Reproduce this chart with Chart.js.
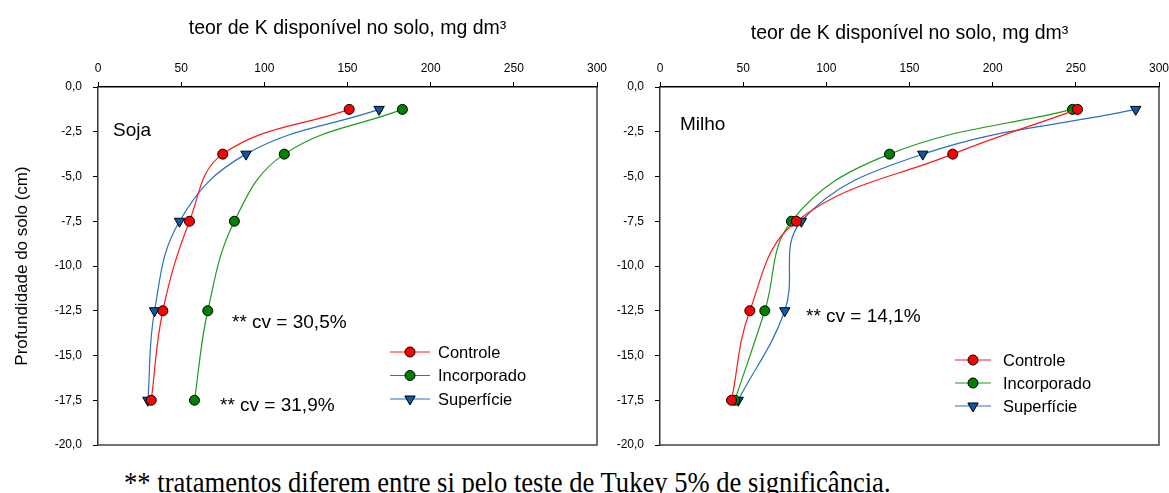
<!DOCTYPE html>
<html><head><meta charset="utf-8">
<script src="https://cdn.jsdelivr.net/npm/chart.js@4.4.1/dist/chart.umd.min.js"></script>
<style>
body{margin:0;width:1169px;height:493px;background:#fff;position:relative;overflow:hidden;font-family:"Liberation Sans",Arial,sans-serif;}
.c{position:absolute;top:0;}
.t{position:absolute;white-space:nowrap;color:#000;line-height:1;}
</style></head><body>
<div class="c" style="left:600px;width:569px;height:460px"><canvas id="milho"></canvas></div>
<div class="c" style="left:0;width:620px;height:460px"><canvas id="soja"></canvas></div>
<div class="t" style="left:113px;top:120px;font-size:19px">Soja</div>
<div class="t" style="left:680px;top:114px;font-size:19px">Milho</div>
<div class="t" style="left:232px;top:312px;font-size:19px">** cv = 30,5%</div>
<div class="t" style="left:220px;top:395px;font-size:19px">** cv = 31,9%</div>
<div class="t" style="left:806px;top:306px;font-size:19px">** cv = 14,1%</div>
<div class="t" style="left:124px;top:470px;font-size:26.6px;font-family:'Liberation Serif','Times New Roman',serif;transform:scaleY(1.08);transform-origin:0 100%">** tratamentos diferem entre si pelo teste de Tukey 5% de significância.</div>
<script>
// ---- data ----
const depths = [-1.25, -3.75, -7.5, -12.5, -17.5];
const seriesNames = ['Controle', 'Incorporado', 'Superfície'];
const sojaControle    = [151, 75, 55, 39, 32];
const sojaIncorporado = [183, 112, 82, 66, 58];
const sojaSuperficie  = [169, 89, 49, 34, 30];
const milhoControle    = [251, 176, 82, 54, 43];
const milhoIncorporado = [248, 138, 79, 63, 45];
const milhoSuperficie  = [286, 158, 85, 75, 47];
const xTicks = [0, 50, 100, 150, 200, 250, 300];
const yTicks = [0, -2.5, -5, -7.5, -10, -12.5, -15, -17.5, -20];
const xTitle = 'teor de K disponível no solo, mg dm³';
const yTitle = 'Profundidade do solo (cm)';

const styles = [
  {line:'#ff1a1a', fill:'#ff0000', pointStyle:'circle', rot:0, r:5},
  {line:'#1f9a1f', fill:'#008000', pointStyle:'circle', rot:0, r:5},
  {line:'#2a6fc0', fill:'#0b5aa8', pointStyle:'triangle', rot:180, r:6}
];

function mkDatasets(arrs){
  return arrs.map((vals,i)=>({
    label: seriesNames[i],
    data: vals.map((v,j)=>({x:v, y:depths[j]})),
    showLine:true,
    borderColor: styles[i].line,
    borderWidth: 1.2,
    tension: 0.4,
    pointStyle: styles[i].pointStyle,
    pointRotation: styles[i].rot,
    pointRadius: styles[i].r,
    pointBackgroundColor: styles[i].fill,
    pointBorderColor: '#000',
    pointBorderWidth: 1
  }));
}

const frame = {
  id:'frame',
  beforeDatasetsDraw(chart){
    const {ctx, chartArea:a} = chart;
    ctx.save();
    ctx.lineWidth = 1.5;
    ctx.strokeStyle = '#444';
    ctx.beginPath();
    ctx.moveTo(a.right, a.top); ctx.lineTo(a.right, a.bottom); ctx.lineTo(a.left, a.bottom);
    ctx.stroke();
    ctx.restore();
  }
};

const ptLegend = {
  id:'ptLegend',
  afterDraw(chart, args, o){
    if(!o || o.x === undefined) return;
    const ctx = chart.ctx;
    chart.data.datasets.forEach((ds,i)=>{
      const y = o.y + i*o.dy;
      ctx.save();
      ctx.strokeStyle = ds.borderColor; ctx.lineWidth = 1.2;
      ctx.beginPath(); ctx.moveTo(o.x, y); ctx.lineTo(o.x+o.len, y); ctx.stroke();
      ctx.fillStyle = ds.pointBackgroundColor; ctx.strokeStyle = '#000'; ctx.lineWidth = 1;
      Chart.helpers.drawPoint(ctx, {pointStyle: ds.pointStyle, rotation: ds.pointRotation, radius: ds.pointRadius, borderWidth:1}, o.x+o.len/2, y);
      ctx.fillStyle = '#000';
      ctx.font = '16.5px "Liberation Sans", Arial, sans-serif';
      ctx.textBaseline = 'middle';
      ctx.fillText(ds.label, o.tx, y+1);
      ctx.restore();
    });
  }
};

function mkChart(id, arrs, yWidth, showYTitle, xTitlePad, rightPad, legend){
  return new Chart(document.getElementById(id), {
    type:'scatter',
    data:{datasets: mkDatasets(arrs)},
    plugins:[frame, ptLegend],
    options:{
      responsive:true, maintainAspectRatio:false, animation:false,
      layout:{padding:{left:0, top:0, right:rightPad, bottom:15}},
      plugins:{legend:{display:false}, tooltip:{enabled:false}, ptLegend: legend},
      scales:{
        x:{
          type:'linear', position:'top', min:0, max:300,
          afterBuildTicks: s => { s.ticks = xTicks.map(v=>({value:v})); },
          afterFit: s => { s.height = 87; s.paddingLeft = 0; s.paddingRight = 0; },
          ticks:{color:'#000', font:{size:12, family:'"Liberation Sans", Arial'}, padding:6, maxRotation:0},
          grid:{drawOnChartArea:false, drawTicks:true, tickLength:5, color:'#000'},
          border:{color:'#000', width:1.5},
          title:{display:true, text:xTitle, color:'#000', font:{size:19.5, family:'"Liberation Sans", Arial'}, padding:{top:xTitlePad, bottom:0}}
        },
        y:{
          type:'linear', min:-20, max:0,
          afterBuildTicks: s => { s.ticks = yTicks.map(v=>({value:v})); },
          afterFit: s => { s.width = yWidth; s.paddingTop = 0; s.paddingBottom = 0; },
          ticks:{color:'#000', font:{size:12, family:'"Liberation Sans", Arial'}, padding:11,
                 callback: v => v.toFixed(1).replace('.', ',')},
          grid:{drawOnChartArea:false, drawTicks:true, tickLength:5, color:'#000'},
          border:{color:'#333', width:1.5},
          title:{display:showYTitle, text:yTitle, color:'#000', font:{size:17, family:'"Liberation Sans", Arial'}, padding:{top:12, bottom:0}}
        }
      }
    }
  });
}

mkChart('soja', [sojaControle, sojaIncorporado, sojaSuperficie], 98, true, 17, 23,
  {x:390, len:40, tx:438, y:352, dy:23.5});
mkChart('milho', [milhoControle, milhoIncorporado, milhoSuperficie], 60, false, 22, 10,
  {x:355, len:36, tx:403, y:360, dy:23});
</script>
</body></html>
